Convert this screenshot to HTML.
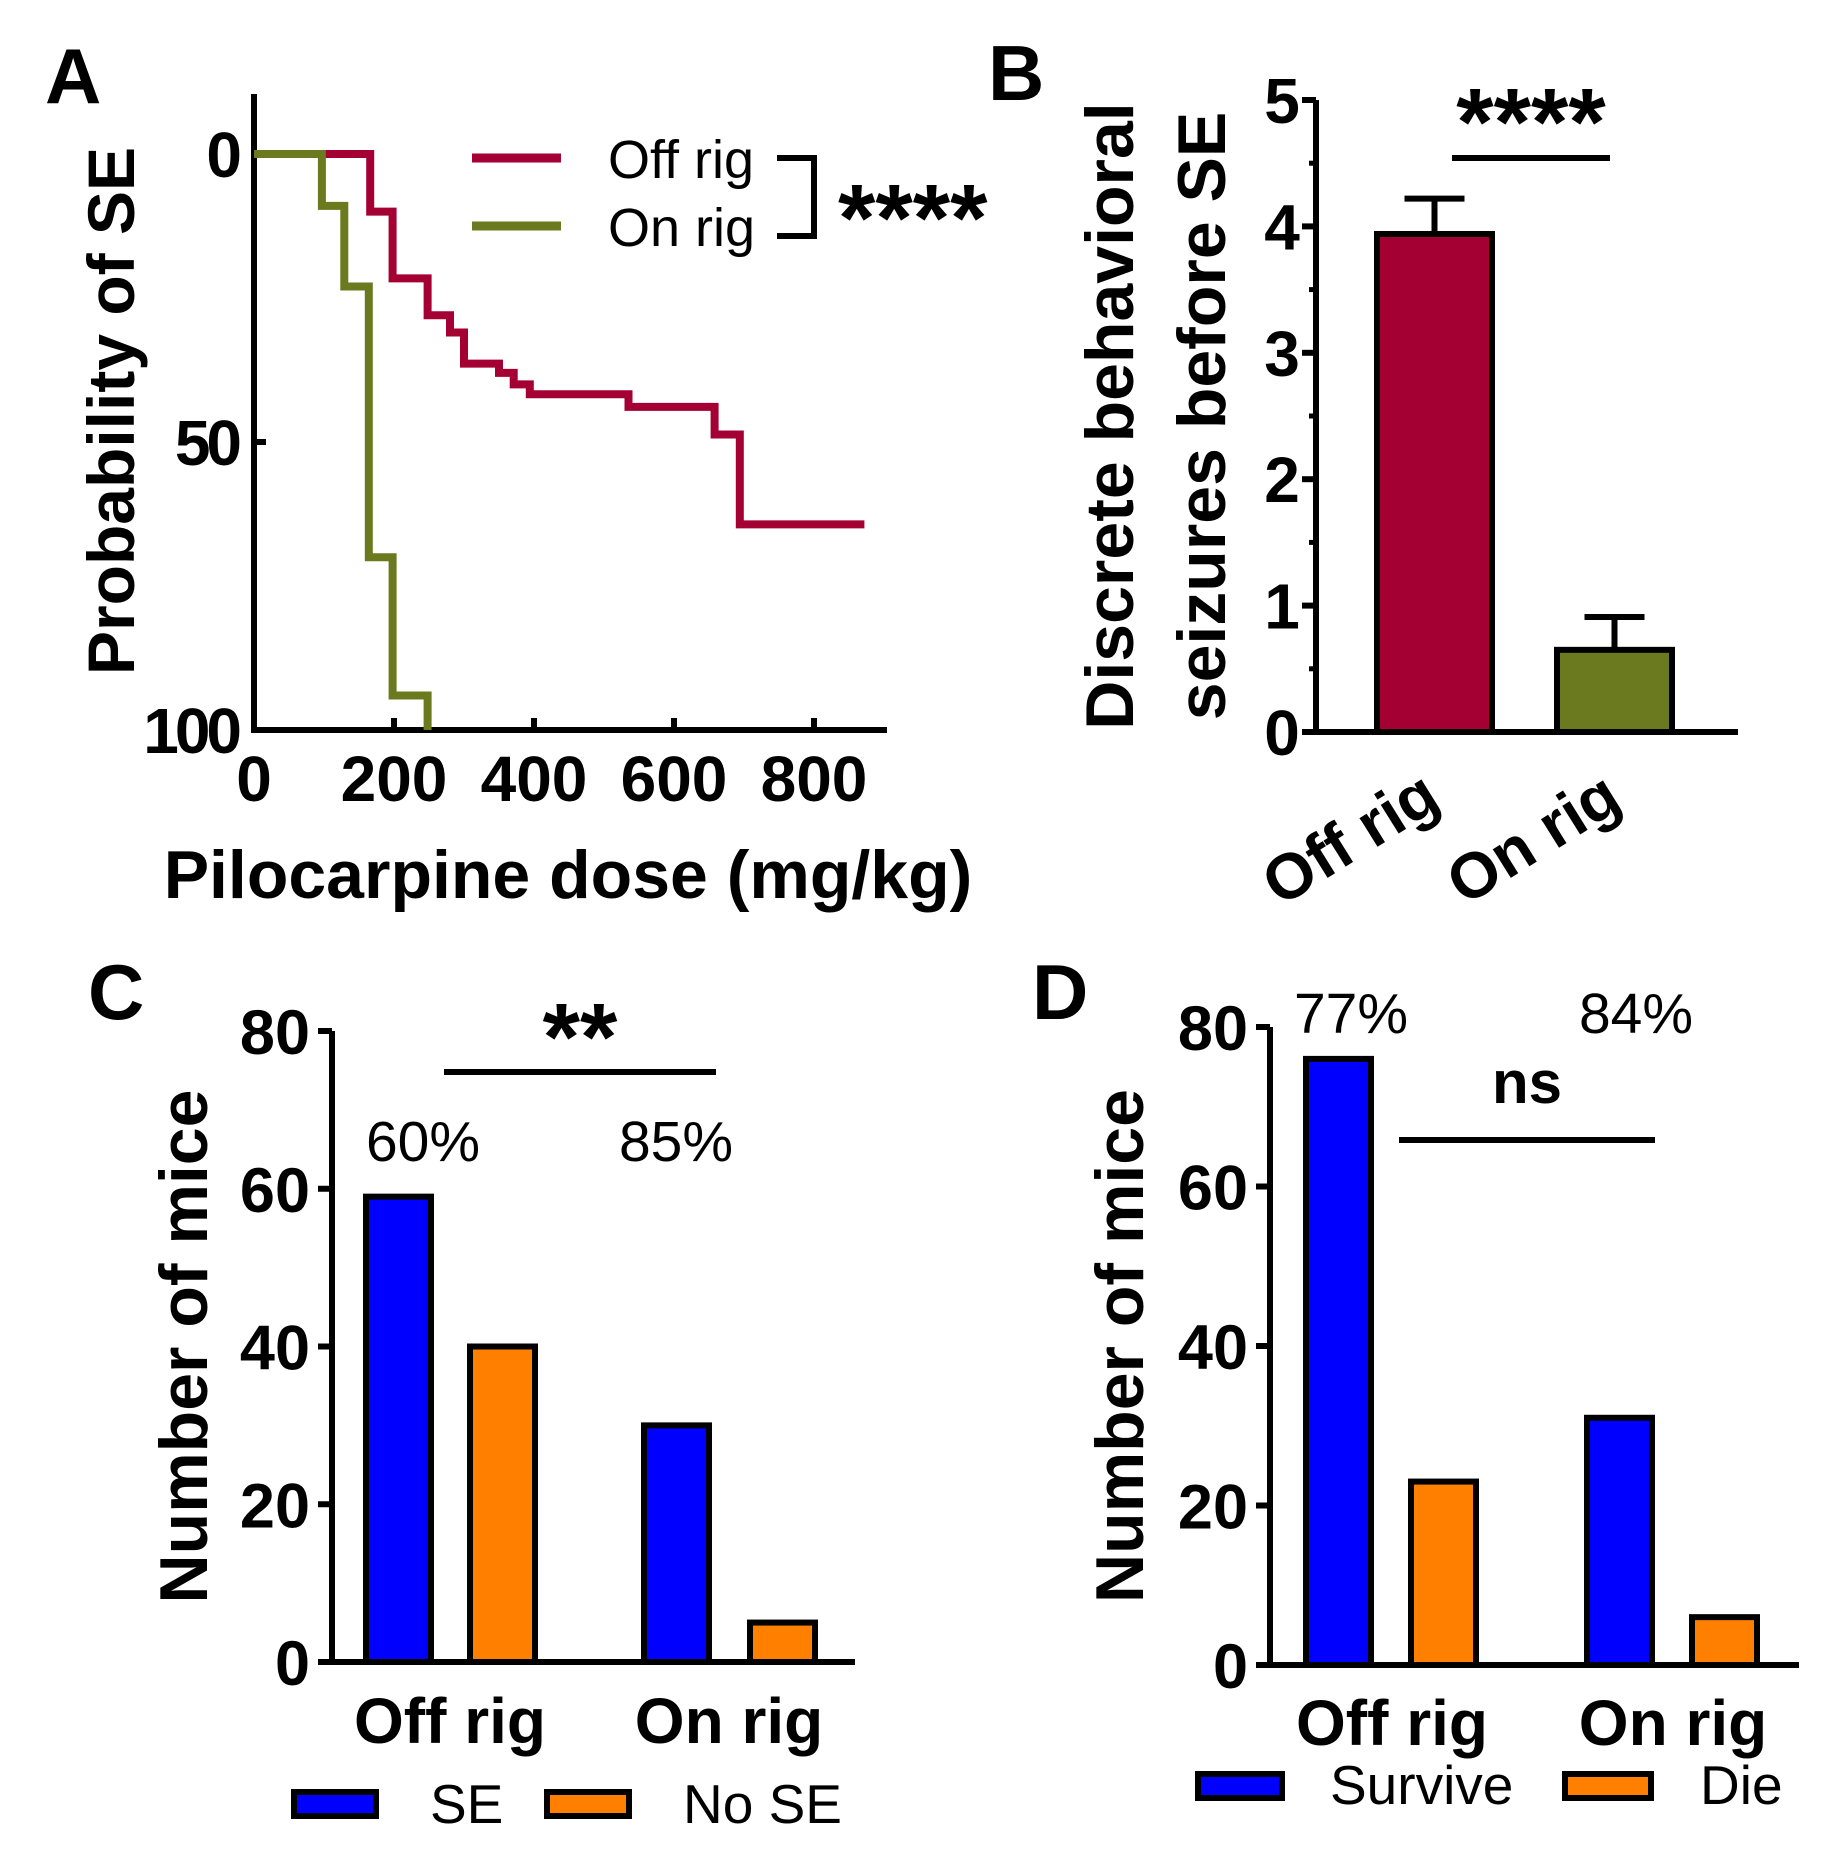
<!DOCTYPE html>
<html><head><meta charset="utf-8"><style>
html,body{margin:0;padding:0;background:#fff;}
svg{display:block;font-family:"Liberation Sans",Arial,sans-serif;}
</style></head><body>
<svg id="fig" width="1837" height="1859" viewBox="0 0 1837 1859" xmlns="http://www.w3.org/2000/svg"></svg>
<script>
// Panel A data (step curves): dose, % with SE
const offDose = [0,166,198,248,280,300,350,371,394,535,658,694,872];
const offProb = [0,10,21.6,28,31,36.4,38,40,41.7,43.9,48.7,64.3,64.3];
const onDose = [0,97,129,164,198,248];
const onProb = [0,9,23,70,94,100];
const aXTicks = [0,200,400,600,800];
const aYTicks = [0,50,100];
// Panel B
const bCats = ["Off rig","On rig"];
const bMeans = [3.94,0.65];
const bErr = [0.28,0.26];
const bColors = ["#a50034","#6b7a1e"];
const bYTicks = [0,1,2,3,4,5];
// Panel C
const cGroups = ["Off rig","On rig"];
const cSE = [59,30];
const cNoSE = [40,5];
const cPct = ["60%","85%"];
const cYTicks = [0,20,40,60,80];
// Panel D
const dSurvive = [76,31];
const dDie = [23,6];
const dPct = ["77%","84%"];
const dYTicks = [0,20,40,60,80];

const svg = document.getElementById('fig');
const NS = "http://www.w3.org/2000/svg";
function el(tag, attrs, parent){const e=document.createElementNS(NS,tag);for(const k in attrs)e.setAttribute(k,attrs[k]);(parent||svg).appendChild(e);return e;}
function txt(s, attrs){const e=el('text',attrs);e.textContent=s;return e;}

// ---------- Panel A ----------
const ax = v => 254 + v*0.7;
const ay = p => 154 + p*5.76;
let t;
t=txt("A",{x:45,y:103,'font-size':78,'font-weight':'bold'});

let l=el('path',{d:`M254 94 V${ay(100)} H887`,stroke:'#000','stroke-width':6,fill:'none'});

aYTicks.forEach(v=>{
  const e=el('line',{x1:254,x2:266,y1:ay(v),y2:ay(v),stroke:'#000','stroke-width':6});
  
  const tt=txt(String(v),{x:238,y:ay(v)+23,'font-size':64,'font-weight':'bold','text-anchor':'end','letter-spacing':-4});
  
});
aXTicks.forEach(v=>{
  if(v>0){const e=el('line',{x1:ax(v),x2:ax(v),y1:ay(100),y2:ay(100)-12,stroke:'#000','stroke-width':6});
  }
  const tt=txt(String(v),{x:ax(v),y:801,'font-size':64,'font-weight':'bold','text-anchor':'middle'});
  
});
function stepPath(xs,ys){let d=`M${ax(xs[0])} ${ay(ys[0])}`;for(let i=1;i<xs.length;i++){d+=` H${ax(xs[i])} V${ay(ys[i])}`;}return d;}
l=el('path',{d:stepPath(offDose,offProb),stroke:'#a50034','stroke-width':8,fill:'none'});

l=el('path',{d:stepPath(onDose,onProb),stroke:'#6b7a1e','stroke-width':8,fill:'none'});

l=el('line',{x1:472,x2:561,y1:158,y2:158,stroke:'#a50034','stroke-width':9});

l=el('line',{x1:472,x2:561,y1:226,y2:226,stroke:'#6b7a1e','stroke-width':9});

t=txt("Off rig",{x:608,y:178,'font-size':54});

t=txt("On rig",{x:608,y:246,'font-size':54});

l=el('path',{d:'M777 158 H814 V236 H777',stroke:'#000','stroke-width':6,fill:'none'});

t=txt("****",{x:838,y:251,'font-size':96,'font-weight':'bold'});

t=txt("Probability of SE",{x:0,y:0,'font-size':66,'font-weight':'bold','text-anchor':'middle',transform:'translate(134,411) rotate(-90)'});

t=txt("Pilocarpine dose (mg/kg)",{x:568,y:898,'font-size':68,'font-weight':'bold','text-anchor':'middle'});


// ---------- Panel B ----------
const by = v => 732 - v*126.4;
t=txt("B",{x:988,y:100,'font-size':78,'font-weight':'bold'});

l=el('path',{d:'M1316 100 V732 H1738',stroke:'#000','stroke-width':6,fill:'none'});

bYTicks.forEach(v=>{
  const e=el('line',{x1:1302,x2:1316,y1:by(v),y2:by(v),stroke:'#000','stroke-width':6});
  
  if(v<5){const m=el('line',{x1:1309,x2:1316,y1:by(v+0.5),y2:by(v+0.5),stroke:'#000','stroke-width':5});
  }
  const tt=txt(String(v),{x:1282,y:by(v)+23,'font-size':64,'font-weight':'bold','text-anchor':'middle'});
  
});
const bX=[1377,1557], bW=115;
const bLab=[[1350,838],[1533,838]];
bCats.forEach((c,i)=>{
  const cx=bX[i]+bW/2;
  const e=el('path',{d:`M${cx} ${by(bMeans[i])} V${by(bMeans[i]+bErr[i])} M${cx-30} ${by(bMeans[i]+bErr[i])} H${cx+30}`,stroke:'#000','stroke-width':6,fill:'none'});
  
  const r=el('rect',{x:bX[i],y:by(bMeans[i]),width:bW,height:732-by(bMeans[i]),fill:bColors[i],stroke:'#000','stroke-width':6});
  
  const tt=txt(c,{x:0,y:22,'font-size':64,'font-weight':'bold','text-anchor':'middle',transform:`translate(${bLab[i][0]},${bLab[i][1]}) rotate(-32)`});
  
});
l=el('line',{x1:1452,x2:1610,y1:158,y2:158,stroke:'#000','stroke-width':6});

t=txt("****",{x:1531,y:155,'font-size':96,'font-weight':'bold','text-anchor':'middle'});

t=txt("Discrete behavioral",{x:0,y:0,'font-size':68,'font-weight':'bold','text-anchor':'middle',transform:'translate(1133,416) rotate(-90)'});

t=txt("seizures before SE",{x:0,y:0,'font-size':68,'font-weight':'bold','text-anchor':'middle',transform:'translate(1225,416) rotate(-90)'});


// ---------- Grouped bar panels ----------
function grouped(o){
  const yy=v=>o.y0-v*(o.y0-o.y80)/80;
  let t=txt(o.letter,{x:o.lx,y:o.ly,'font-size':78,'font-weight':'bold'});
  
  let l=el('path',{d:`M${o.ax} ${o.y80} V${o.y0} H${o.axEnd}`,stroke:'#000','stroke-width':6,fill:'none'});
  
  o.ticks.forEach(v=>{
    const e=el('line',{x1:o.ax-14,x2:o.ax,y1:yy(v),y2:yy(v),stroke:'#000','stroke-width':6});
    
    const tt=txt(String(v),{x:o.ax-22,y:yy(v)+23,'font-size':63,'font-weight':'bold','text-anchor':'end'});
    
  });
  for(let g=0;g<2;g++){
    const r1=el('rect',{x:o.bx1[g],y:yy(o.s1[g]),width:o.bw,height:o.y0-yy(o.s1[g]),fill:'#0000ff',stroke:'#000','stroke-width':6});
    
    const r2=el('rect',{x:o.bx2[g],y:yy(o.s2[g]),width:o.bw,height:o.y0-yy(o.s2[g]),fill:'#ff8000',stroke:'#000','stroke-width':6});
    
    const p=txt(o.pct[g],{x:o.px[g],y:o.py,'font-size':57,'text-anchor':'middle'});
    
    const xl=txt(cGroups[g],{x:o.gx[g],y:o.gy,'font-size':64,'font-weight':'bold','text-anchor':'middle'});
    
  }
  l=el('line',{x1:o.sig[0],x2:o.sig[1],y1:o.sig[2],y2:o.sig[2],stroke:'#000','stroke-width':6});
  
  t=txt(o.sigTxt,{x:(o.sig[0]+o.sig[1])/2,y:o.sigY,'font-size':o.sigSize,'font-weight':'bold','text-anchor':'middle'});
  
  t=txt("Number of mice",{x:0,y:0,'font-size':68,'font-weight':'bold','text-anchor':'middle',transform:`translate(${o.tx},${(o.y0+o.y80)/2}) rotate(-90)`});
  
  let s=el('rect',{x:o.leg[0],y:o.leg[2],width:o.leg[1]-o.leg[0],height:o.leg[3],fill:'#0000ff',stroke:'#000','stroke-width':6});
  
  t=txt(o.l1,{x:o.leg[4],y:o.leg[8],'font-size':55});
  
  s=el('rect',{x:o.leg[5],y:o.leg[2],width:o.leg[6]-o.leg[5],height:o.leg[3],fill:'#ff8000',stroke:'#000','stroke-width':6});
  
  t=txt(o.l2,{x:o.leg[7],y:o.leg[8],'font-size':55});
  
}
grouped({id:'c',letter:'C',lx:88,ly:1019,ax:332,y80:1031,y0:1662,axEnd:855,ticks:cYTicks,
  bx1:[366,644],bx2:[470,750],bw:65,s1:cSE,s2:cNoSE,n1:'se',n2:'no-se',pct:cPct,px:[423,676],py:1161,
  gx:[450,729],gy:1743,sig:[444,716,1072],sigTxt:'**',sigY:1070,sigSize:96,tx:207,
  leg:[294,376,1792,24,430,547,629,683,1823],l1:'SE',l2:'No SE'});
grouped({id:'d',letter:'D',lx:1032,ly:1019,ax:1270,y80:1027,y0:1665,axEnd:1799,ticks:dYTicks,
  bx1:[1306,1587],bx2:[1411,1692],bw:65,s1:dSurvive,s2:dDie,n1:'survive',n2:'die',pct:dPct,px:[1351,1636],py:1033,
  gx:[1392,1673],gy:1745,sig:[1399,1655,1140],sigTxt:'ns',sigY:1103,sigSize:60,tx:1143,
  leg:[1198,1282,1774,24,1330,1565,1651,1700,1804],l1:'Survive',l2:'Die'});
</script>
</body></html>
